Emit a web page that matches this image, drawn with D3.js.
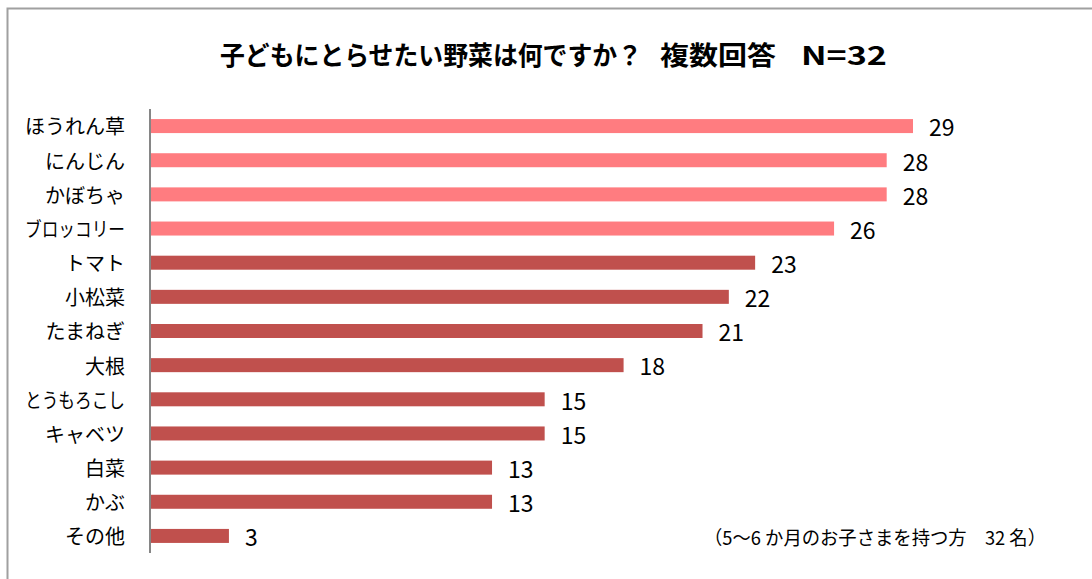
<!DOCTYPE html>
<meta charset="utf-8">
<script src="https://d3js.org/d3.v7.min.js"></script>
<style>
  body { margin: 0; background: #fff; }
  text { font-family: "Noto Sans CJK JP", "Noto Sans", sans-serif; }
</style>
<div id="my_dataviz"></div>
<script>
  // data
  const vegetables = ["ほうれん草", "にんじん", "かぼちゃ", "ブロッコリー", "トマト", "小松菜",
    "たまねぎ", "大根", "とうもろこし", "キャベツ", "白菜", "かぶ", "その他"];
  const counts = [29, 28, 28, 26, 23, 22, 21, 18, 15, 15, 13, 13, 3];
  const highlighted = [true, true, true, true, false, false, false, false, false, false, false, false, false];

  // title pieces: [text, left x, width]
  const titleParts = [
    ["子どもにとらせたい野菜は何ですか？", 220, 422],
    ["複数回答", 660, 116],
    ["N=32", 801, 86]
  ];
  const noteText = "（5～6 か月のお子さまを持つ方　32 名）";

  const W = 1092, H = 579;
  const left = 150, axisTop = 109, axisBottom = 553;

  const svg = d3.select("#my_dataviz")
    .append("svg")
    .attr("width", W)
    .attr("height", H);

  // chart frame (only top and left edges visible)
  svg.append("path")
    .attr("d", `M7.5,${H + 5}V8.5H${W + 5}`)
    .attr("fill", "none")
    .attr("stroke", "#a0a0a0")
    .attr("stroke-width", 2);

  // title
  svg.selectAll("text.title")
    .data(titleParts)
    .join("text")
    .attr("class", "title")
    .attr("x", d => d[1])
    .attr("y", 65)
    .attr("font-size", 26)
    .attr("font-weight", "bold")
    .attr("fill", "#000")
    .attr("textLength", d => d[2])
    .attr("lengthAdjust", "spacingAndGlyphs")
    .text(d => d[0]);

  // scales
  const x = d3.scaleLinear()
    .domain([0, 29])
    .range([left, 913]);

  const y = d3.scaleBand()
    .domain(vegetables)
    .range([axisTop, axisBottom])
    .paddingInner(0.59)
    .paddingOuter(0.295);

  // bars
  svg.selectAll("rect.bar")
    .data(vegetables)
    .join("rect")
    .attr("class", "bar")
    .attr("x", x(0))
    .attr("y", d => y(d))
    .attr("width", (d, i) => x(counts[i]) - x(0))
    .attr("height", y.bandwidth())
    .attr("fill", (d, i) => highlighted[i] ? "#ff7c80" : "#c0504d");

  // value labels
  svg.selectAll("text.val")
    .data(vegetables)
    .join("text")
    .attr("class", "val")
    .attr("x", (d, i) => x(counts[i]) + 16)
    .attr("y", d => y(d) + y.bandwidth() / 2 + 2)
    .attr("dy", "0.36em")
    .attr("font-family", "'Noto Sans', sans-serif")
    .attr("font-size", 23)
    .attr("fill", "#000")
    .text((d, i) => counts[i]);

  // y axis
  const yAxis = svg.append("g")
    .attr("transform", `translate(${left},0)`)
    .call(d3.axisLeft(y).tickSize(0).tickPadding(25));
  yAxis.select(".domain")
    .attr("d", `M0,${axisTop}V${axisBottom}`)
    .attr("stroke", "#868686")
    .attr("stroke-width", 2);
  yAxis.attr("font-family", null);
  yAxis.selectAll("text")
    .attr("font-size", 20)
    .attr("dy", "0.42em")
    .attr("fill", "#000")
    .each(function () {
      // the original font has narrow kana; squeeze long labels
      if (this.getComputedTextLength() > 100) {
        d3.select(this).attr("textLength", 100).attr("lengthAdjust", "spacingAndGlyphs");
      }
    });

  // note
  svg.append("text")
    .attr("x", 1046)
    .attr("y", 545)
    .attr("text-anchor", "end")
    .attr("font-size", 19)
    .attr("fill", "#000")
    .attr("textLength", 342)
    .attr("lengthAdjust", "spacingAndGlyphs")
    .text(noteText);
</script>
